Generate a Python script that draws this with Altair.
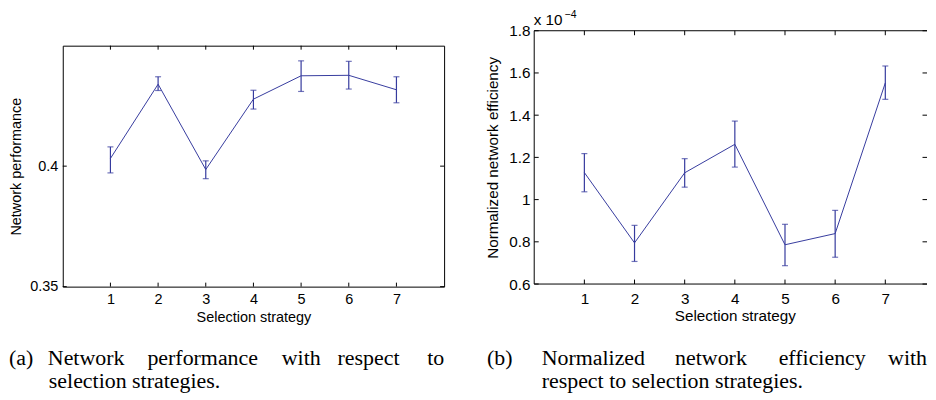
import altair as alt
import pandas as pd

# ---------------- data ----------------
strategies = [1, 2, 3, 4, 5, 6, 7]

perf_mean = [0.4032, 0.4340, 0.3986, 0.4278, 0.4375, 0.4377, 0.4317]
perf_low = [0.3972, 0.4314, 0.3948, 0.4237, 0.4310, 0.4320, 0.4263]
perf_high = [0.4080, 0.4371, 0.4022, 0.4315, 0.4437, 0.4435, 0.4371]
perf_yticks = [0.35, 0.4]

eff_mean = [1.128, 0.795, 1.127, 1.262, 0.786, 0.839, 1.553]
eff_low = [1.037, 0.707, 1.059, 1.154, 0.687, 0.727, 1.475]
eff_high = [1.218, 0.878, 1.194, 1.372, 0.883, 0.949, 1.633]
eff_yticks = [0.6, 0.8, 1.0, 1.2, 1.4, 1.6, 1.8]

x_title = "Selection strategy"
perf_title = "Network performance"
eff_title = "Normalized network efficiency"
eff_mult = "x 10"
eff_exp = "\u22124"

cap_a_line1 = ["(a)", "Network", "performance", "with", "respect", "to"]
cap_a_line2 = "selection strategies."
cap_b_line1 = ["(b)", "Normalized", "network", "efficiency", "with"]
cap_b_line2 = "respect to selection strategies."

# ---------------- layout / style ----------------
COLOR = "#363b9e"
SANS = "Liberation Sans"
SERIF = "Liberation Serif"
WA, HA, FA = 383, 242, 14.5
B_FULL_W = 403          # width of panel (b) box for x = 0..8 (right edge falls off the page)
WB, HB, FB = 394.5, 254.4, 15.3
B_XMAX = 8 * WB / B_FULL_W
A_DROP = 14.7          # panel (a) plot starts this much lower than panel (b)
CAP_FS = 22
cap_a_x = [-54, -15, 85, 220, 276, 366]
cap_a_x2 = -14
cap_a_y = [321.0, 344.0]
cap_b_x = [-47.5, 7.5, 141.5, 245.5]
cap_b_xr = WB            # "with" is right-aligned at the page edge
cap_b_x2 = 7.5
cap_b_y = [335.7, 358.7]


def single():
    return alt.Chart(pd.DataFrame({"a": [0]}))


def text_layer(txt, x, y, size, font, align="left"):
    return single().mark_text(
        align=align, baseline="alphabetic", fontSize=size, font=font, color="black"
    ).encode(x=alt.value(x), y=alt.value(y), text=alt.value(txt))


def anchor(x, y):
    return single().mark_rule(opacity=0).encode(
        x=alt.value(x), x2=alt.value(x), y=alt.value(y), y2=alt.value(y))


def edge(x, x2, y, y2):
    return single().mark_rule(color="black", strokeWidth=1).encode(
        x=alt.value(x), x2=alt.value(x2), y=alt.value(y), y2=alt.value(y2))


def panel(mean, low, high, yticks, ydom, ytitle, W, H, fs, xmax,
          xlabpad, xtitley, ylabpad, ytitlex, ticklen):
    df = pd.DataFrame({"x": strategies, "y": mean, "lo": low, "hi": high})
    xs = alt.Scale(domain=[0, xmax], nice=False, zero=False)
    ys = alt.Scale(domain=ydom, nice=False, zero=False)
    xaxis = alt.Axis(values=strategies, title=x_title, grid=False, domain=False,
                     ticks=False, tickSize=0, labelPadding=xlabpad, labelFont=SANS,
                     labelFontSize=fs, labelColor="black", labelBaseline="top",
                     labelFlush=False, format="d", titleFont=SANS, titleFontSize=fs,
                     titleFontWeight="normal", titleColor="black",
                     titleBaseline="alphabetic", titleY=xtitley,
                     titleX=W * 4 / xmax, titleAnchor="middle", titleAlign="center")
    yaxis = alt.Axis(values=yticks, title=ytitle, grid=False, domain=False,
                     ticks=False, tickSize=0, labelPadding=ylabpad, labelFont=SANS,
                     labelFontSize=fs, labelColor="black", format="~g",
                     titleFont=SANS, titleFontSize=fs, titleFontWeight="normal",
                     titleColor="black", titleBaseline="alphabetic",
                     titleAngle=270, titleX=ytitlex, titleY=H / 2)
    X = alt.X("x:Q", scale=xs, axis=xaxis)
    base = alt.Chart(df)
    line = base.mark_line(color=COLOR, strokeWidth=1).encode(
        x=X, y=alt.Y("y:Q", scale=ys, axis=yaxis))
    err = base.mark_rule(color=COLOR, strokeWidth=1.2).encode(
        x=X, y=alt.Y("lo:Q", scale=ys, axis=yaxis), y2="hi:Q")
    cap_lo = base.mark_tick(color=COLOR, orient="horizontal", size=6, thickness=1.2).encode(
        x=X, y=alt.Y("lo:Q", scale=ys, axis=yaxis))
    cap_hi = base.mark_tick(color=COLOR, orient="horizontal", size=6, thickness=1.2).encode(
        x=X, y=alt.Y("hi:Q", scale=ys, axis=yaxis))
    xt = alt.Chart(pd.DataFrame({"x": strategies}))
    yt = alt.Chart(pd.DataFrame({"y": yticks}))
    tick_b = xt.mark_rule(color="black").encode(x=X, y=alt.value(H), y2=alt.value(H - ticklen))
    tick_t = xt.mark_rule(color="black").encode(x=X, y=alt.value(0), y2=alt.value(ticklen))
    tick_l = yt.mark_rule(color="black").encode(
        y=alt.Y("y:Q", scale=ys, axis=yaxis), x=alt.value(0), x2=alt.value(ticklen))
    tick_r = yt.mark_rule(color="black").encode(
        y=alt.Y("y:Q", scale=ys, axis=yaxis), x=alt.value(W - ticklen), x2=alt.value(W))
    return [line, err, cap_lo, cap_hi, tick_b, tick_t, tick_l, tick_r]


# ----- panel (a) -----
layers_a = panel(perf_mean, perf_low, perf_high, perf_yticks, [0.35, 0.45], perf_title,
                 WA, HA, FA, 8, xlabpad=6.2, xtitley=34.8, ylabpad=5, ytitlex=-42, ticklen=4)
for w, x in zip(cap_a_line1, cap_a_x):
    layers_a.append(text_layer(w, x, cap_a_y[0], CAP_FS, SERIF))
layers_a.append(text_layer(cap_a_line2, cap_a_x2, cap_a_y[1], CAP_FS, SERIF))
layers_a.append(anchor(-54, 0))     # left edge of the whole figure
layers_a.append(anchor(387, 0))     # right end of panel (a) block
chart_a = alt.layer(*layers_a).properties(width=WA, height=HA)

spacer = single().mark_rule(opacity=0).encode(
    x=alt.value(0), x2=alt.value(1), y=alt.value(0), y2=alt.value(1)
).properties(width=WA, height=A_DROP, view=alt.ViewBackground(stroke="transparent"))

col_a = alt.vconcat(spacer, chart_a, spacing=0, bounds="flush")

# ----- panel (b) -----
layers_b = panel(eff_mean, eff_low, eff_high, eff_yticks, [0.6, 1.8], eff_title,
                 WB, HB, FB, B_XMAX, xlabpad=7.9, xtitley=36.6, ylabpad=4.2,
                 ytitlex=-37, ticklen=4.5)
# box of panel (b): its right edge lies beyond the page edge
layers_b.append(edge(0, WB, 0, 0))
layers_b.append(edge(0, WB, HB, HB))
layers_b.append(edge(0, 0, 0, HB))
layers_b.append(text_layer(eff_mult, -0.5, -6, FB, SANS))
layers_b.append(text_layer(eff_exp, 30.5, -12.8, 10.5, SANS))
for w, x in zip(cap_b_line1[:-1], cap_b_x):
    layers_b.append(text_layer(w, x, cap_b_y[0], CAP_FS, SERIF))
layers_b.append(text_layer(cap_b_line1[-1], cap_b_xr, cap_b_y[0], CAP_FS, SERIF, align="right"))
layers_b.append(text_layer(cap_b_line2, cap_b_x2, cap_b_y[1], CAP_FS, SERIF))
layers_b.append(anchor(-50, -21.3))  # top-left of panel (b) block
chart_b = alt.layer(*layers_b).properties(
    width=WB, height=HB, view=alt.ViewBackground(stroke="transparent"))

chart = alt.hconcat(col_a, chart_b, spacing=34.5).properties(
    padding=0
).configure(font=SANS).configure_view(stroke="black", strokeWidth=1)

chart.save("out.html", embed_options={"renderer": "svg", "actions": False})
